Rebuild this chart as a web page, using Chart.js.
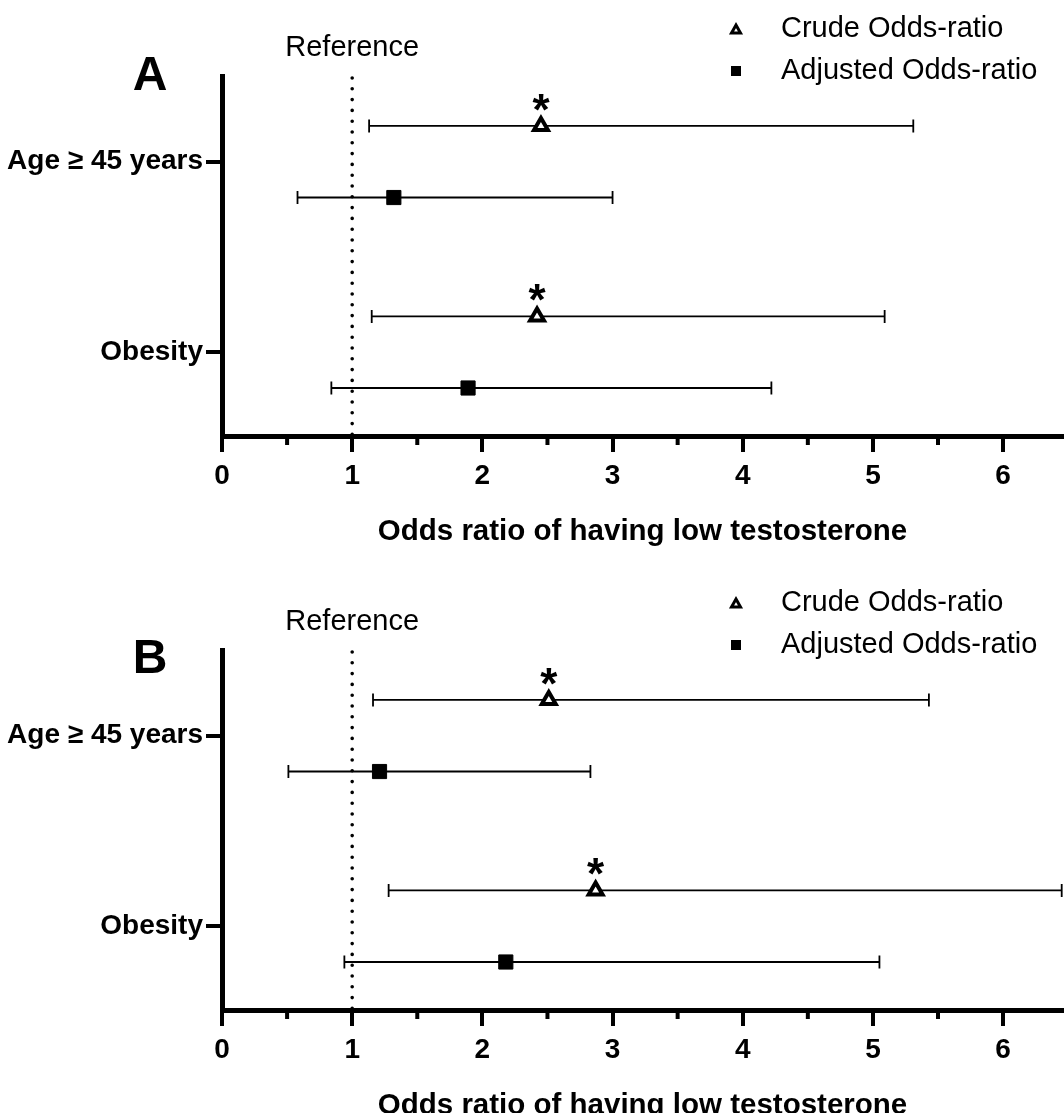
<!DOCTYPE html>
<html>
<head>
<meta charset="utf-8">
<script src="https://cdn.jsdelivr.net/npm/chart.js@4.4.1/dist/chart.umd.min.js"></script>
<style>
html, body { margin: 0; padding: 0; background: #fff; overflow: hidden; width: 1064px; height: 1113px; }
canvas { position: absolute; left: 0; }
#chartA { top: 0; }
#chartB { top: 556px; }
</style>
</head>
<body>
<!-- canvases are a bit wider than the page: the x scale keeps a small right margin for its last label -->
<canvas id="chartA" width="1075" height="556"></canvas>
<canvas id="chartB" width="1075" height="574"></canvas>
<script>
// values
const categories = ['Age \u2265 45 years', 'Obesity'];
const xTicks = [0, 1, 2, 3, 4, 5, 6];
const minorTicks = [0.5, 1.5, 2.5, 3.5, 4.5, 5.5];
const referenceOR = 1;

// panel A
const crudeA = [2.45, 2.42];
const crudeLowA = [1.13, 1.15];
const crudeHighA = [5.31, 5.09];
const adjA = [1.32, 1.89];
const adjLowA = [0.58, 0.84];
const adjHighA = [3.00, 4.22];
const starA = [true, true];

// panel B
const crudeB = [2.51, 2.87];
const crudeLowB = [1.16, 1.28];
const crudeHighB = [5.43, 6.45];
const adjB = [1.21, 2.18];
const adjLowB = [0.51, 0.94];
const adjHighB = [2.83, 5.05];
const starB = [true, true];

const rowOffset = 0.188;
const family = '"Liberation Sans", Arial, Helvetica, sans-serif';

const forestPlugin = {
    id: 'forest',
    beforeDatasetsDraw(chart) {
        const ctx = chart.ctx;
        const xs = chart.scales.x, ys = chart.scales.y, area = chart.chartArea;
        ctx.save();
        ctx.strokeStyle = '#000';

        // dotted reference line at OR = 1
        const rx = xs.getPixelForValue(referenceOR);
        ctx.lineWidth = 3.6;
        ctx.lineCap = 'round';
        ctx.setLineDash([0, 10.8]);
        ctx.beginPath();
        ctx.moveTo(rx, area.top + 2);
        ctx.lineTo(rx, area.bottom);
        ctx.stroke();
        ctx.setLineDash([]);

        // minor ticks
        ctx.lineCap = 'butt';
        ctx.lineWidth = 4;
        minorTicks.forEach(v => {
            const px = xs.getPixelForValue(v);
            ctx.beginPath();
            ctx.moveTo(px, area.bottom);
            ctx.lineTo(px, area.bottom + 9);
            ctx.stroke();
        });

        // confidence intervals
        ctx.lineWidth = 1.8;
        chart.data.datasets.forEach(ds => {
            ds.data.forEach((p, i) => {
                const y = ys.getPixelForValue(p.y);
                const x1 = xs.getPixelForValue(ds.lo[i]);
                const x2 = xs.getPixelForValue(ds.hi[i]);
                ctx.beginPath();
                ctx.moveTo(x1, y); ctx.lineTo(x2, y);
                ctx.moveTo(x1, y - 6.5); ctx.lineTo(x1, y + 6.5);
                ctx.moveTo(x2, y - 6.5); ctx.lineTo(x2, y + 6.5);
                ctx.stroke();
            });
        });
        ctx.restore();
    },
    afterDraw(chart, args, opts) {
        const ctx = chart.ctx;
        const xs = chart.scales.x, ys = chart.scales.y, area = chart.chartArea;
        ctx.save();
        ctx.fillStyle = '#000';
        ctx.strokeStyle = '#000';

        // significance stars over crude estimates
        const crude = chart.data.datasets[0];
        ctx.font = 'bold 44px ' + family;
        ctx.textAlign = 'center';
        ctx.textBaseline = 'alphabetic';
        crude.data.forEach((p, i) => {
            if (!crude.star[i]) return;
            ctx.fillText('*', xs.getPixelForValue(p.x), ys.getPixelForValue(p.y) - 1);
        });

        // "Reference" label
        ctx.font = '29px ' + family;
        ctx.textBaseline = 'middle';
        ctx.fillText('Reference', xs.getPixelForValue(referenceOR), area.top - 28);

        // panel letter
        ctx.font = 'bold 48px ' + family;
        ctx.fillText(opts.letter, 150, area.top + opts.letterDy);

        // legend
        const lx = 736;
        const y1 = area.top - 47, y2 = area.top - 5;
        ctx.lineWidth = 3;
        ctx.lineJoin = 'miter';
        ctx.beginPath();
        ctx.moveTo(lx, y1 - 4);
        ctx.lineTo(lx + 4.5, y1 + 4);
        ctx.lineTo(lx - 4.5, y1 + 4);
        ctx.closePath();
        ctx.stroke();
        ctx.fillRect(lx - 5, y2 - 5, 10, 10);
        ctx.font = '29px ' + family;
        ctx.textAlign = 'left';
        ctx.fillText(chart.data.datasets[0].label, 781, y1);
        ctx.fillText(chart.data.datasets[1].label, 781, y2);
        ctx.restore();
    }
};

function makePanel(id, letter, top, letterDy, crude, crudeLow, crudeHigh, adj, adjLow, adjHigh, star) {
    const crudePts = crude.map((v, i) => ({ x: v, y: i - rowOffset }));
    const adjPts = adj.map((v, i) => ({ x: v, y: i + rowOffset }));
    const tickFont = { family: family, size: 28, weight: 'bold' };

    return new Chart(document.getElementById(id), {
        type: 'scatter',
        data: {
            datasets: [{
                label: 'Crude Odds-ratio',
                data: crudePts,
                lo: crudeLow,
                hi: crudeHigh,
                star: star,
                pointStyle: 'triangle',
                pointRadius: 8,
                backgroundColor: '#fff',
                borderColor: '#000',
                borderWidth: 4
            }, {
                label: 'Adjusted Odds-ratio',
                data: adjPts,
                lo: adjLow,
                hi: adjHigh,
                pointStyle: 'rect',
                pointRadius: 10,
                backgroundColor: '#000',
                borderColor: '#000',
                borderWidth: 1
            }]
        },
        options: {
            responsive: false,
            animation: false,
            layout: { padding: { top: top, left: 0, right: 0, bottom: 0 } },
            plugins: {
                legend: { display: false },
                tooltip: { enabled: false },
                forest: { letter: letter, letterDy: letterDy }
            },
            scales: {
                x: {
                    type: 'linear',
                    min: 0,
                    max: 6.46,
                    afterBuildTicks: s => { s.ticks = xTicks.map(v => ({ value: v })); },
                    afterFit: s => { s.height = 120; },
                    grid: { drawOnChartArea: false, drawTicks: true, tickLength: 16, lineWidth: 4, color: '#000' },
                    border: { display: true, width: 5, color: '#000' },
                    ticks: { font: tickFont, color: '#000', padding: 7, maxRotation: 0 },
                    title: {
                        display: true,
                        text: 'Odds ratio of having low testosterone',
                        font: { family: family, size: 29.5, weight: 'bold' },
                        color: '#000',
                        padding: { top: 0, bottom: 6 }
                    }
                },
                y: {
                    type: 'linear',
                    reverse: true,
                    min: -0.45,
                    max: 1.44,
                    afterBuildTicks: s => { s.ticks = categories.map((c, i) => ({ value: i })); },
                    afterFit: s => { s.width = 222; },
                    grid: { drawOnChartArea: false, drawTicks: true, tickLength: 16, lineWidth: 4, color: '#000' },
                    border: { display: true, width: 5, color: '#000' },
                    ticks: {
                        font: tickFont,
                        color: '#000',
                        padding: 3,
                        callback: (v, i) => categories[i]
                    }
                }
            }
        },
        plugins: [forestPlugin]
    });
}

makePanel('chartA', 'A', 76, 1, crudeA, crudeLowA, crudeHighA, adjA, adjLowA, adjHighA, starA);
makePanel('chartB', 'B', 94, 10, crudeB, crudeLowB, crudeHighB, adjB, adjLowB, adjHighB, starB);
</script>
</body>
</html>
